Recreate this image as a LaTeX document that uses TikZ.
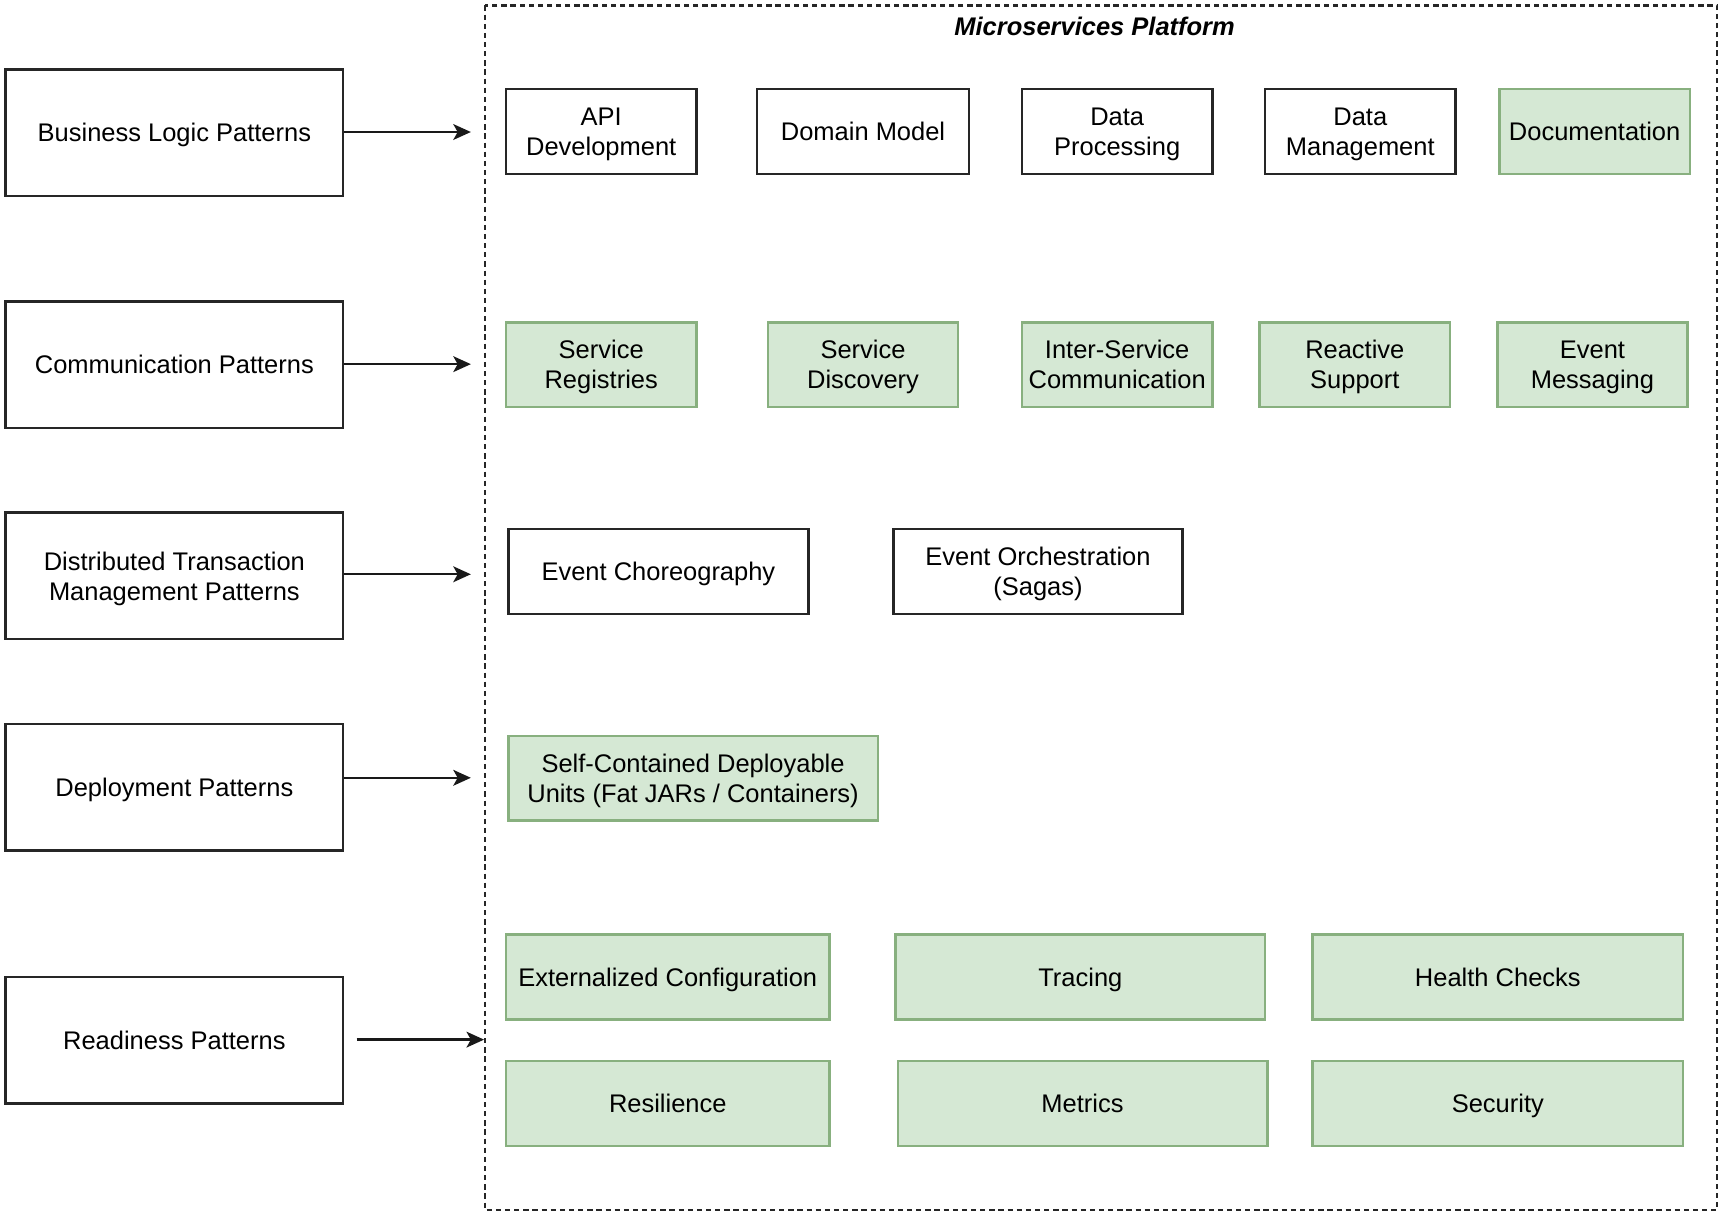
\documentclass[tikz,border=0pt]{standalone}
\usepackage{fontspec}
\setmainfont{Liberation Sans}
\usetikzlibrary{arrows.meta, positioning}
\definecolor{boxgreen}{HTML}{D5E8D4}
\definecolor{edgegreen}{HTML}{88B07F}
\newcommand{\twolines}[2]{\rule{0pt}{14pt}#1\\#2\rule[-3.5pt]{0pt}{3.5pt}}

\begin{document}
\begin{tikzpicture}[x=0.022cm, y=-0.022cm,
    every node/.style={font=\fontsize{14.5}{17}\selectfont, align=center, inner sep=2pt,
      execute at begin node={\rule{0pt}{14pt}}, execute at end node={\rule[-3.5pt]{0pt}{3.5pt}}},
    patternbox/.style={draw=black!85, line width=1.4pt, minimum width=6.754cm, minimum height=2.53cm},
    plainbox/.style={draw=black!85, line width=1.4pt, minimum height=1.694cm},
    greenbox/.style={draw=edgegreen, fill=boxgreen, line width=1.4pt, minimum height=1.694cm},
    feed/.style={-{Stealth[length=10pt, width=9pt, inset=2.5pt]}, line width=1.3pt, black!90}]

  \useasboundingbox (0,0) rectangle (1568,1106);

  % Platform frame
  \draw[dash pattern=on 3pt off 2.2pt, line width=1.3pt, black!85] (441,5) rectangle (1561,1100);
  \node[font=\fontsize{14.5}{17}\selectfont\bfseries\itshape] (title) at (995,24) {Microservices Platform};

  % Pattern groups (left)
  \node[patternbox] (blp) at (158.5,120.5) {Business Logic Patterns};
  \node[patternbox] (com) at (158.5,331.5) {Communication Patterns};
  \node[patternbox] (dtm) at (158.5,523.5) {\twolines{Distributed Transaction}{Management Patterns}};
  \node[patternbox] (dep) at (158.5,715.5) {Deployment Patterns};
  \node[patternbox] (rdy) at (158.5,945.5) {Readiness Patterns};

  % Arrow ends on the frame
  \coordinate (in1) at (428,120);
  \coordinate (in2) at (428,331);
  \coordinate (in3) at (428,522);
  \coordinate (in4) at (428,707);
  \coordinate (in5) at (440,945);

  \draw[feed] (blp.east |- in1) -- (in1);
  \draw[feed] (com.east |- in2) -- (in2);
  \draw[feed] (dtm.east |- in3) -- (in3);
  \draw[feed] (dep.east |- in4) -- (in4);
  \draw[feed] ([xshift=0.242cm]rdy.east |- in5) -- (in5);

  % Business logic
  \node[plainbox, minimum width=3.806cm] (api) at (546.5,119.5) {\twolines{API}{Development}};
  \node[plainbox, minimum width=4.246cm] (dom) at (784.5,119.5) {Domain Model};
  \node[plainbox, minimum width=3.806cm] (dpr) at (1015.5,119.5) {\twolines{Data}{Processing}};
  \node[plainbox, minimum width=3.806cm] (dmg) at (1236.5,119.5) {\twolines{Data}{Management}};
  \node[greenbox, minimum width=3.806cm] (doc) at (1449.5,119.5) {Documentation};

  % Communication
  \node[greenbox, minimum width=3.806cm] (reg) at (546.5,331.5) {\twolines{Service}{Registries}};
  \node[greenbox, minimum width=3.806cm] (dis) at (784.5,331.5) {\twolines{Service}{Discovery}};
  \node[greenbox, minimum width=3.806cm] (isc) at (1015.5,331.5) {\twolines{Inter-Service}{Communication}};
  \node[greenbox, minimum width=3.806cm] (rea) at (1231.5,331.5) {\twolines{Reactive}{Support}};
  \node[greenbox, minimum width=3.806cm] (evm) at (1447.5,331.5) {\twolines{Event}{Messaging}};

  % Distributed transactions
  \node[plainbox, minimum width=6.006cm] (cho) at (598.5,519.5) {Event Choreography};
  \node[plainbox, minimum width=5.786cm] (orc) at (943.5,519.5) {\twolines{Event Orchestration}{(Sagas)}};

  % Deployment
  \node[greenbox, minimum width=7.392cm] (unit) at (630,707.5) {\twolines{Self-Contained Deployable}{Units (Fat JARs / Containers)}};

  % Readiness
  \node[greenbox, minimum width=6.468cm] (cfg) at (607,888) {Externalized Configuration};
  \node[greenbox, minimum width=7.392cm] (trc) at (982,888) {Tracing};
  \node[greenbox, minimum width=7.414cm] (hlt) at (1361.5,888) {Health Checks};
  \node[greenbox, minimum width=6.468cm] (res) at (607,1003) {Resilience};
  \node[greenbox, minimum width=7.392cm] (met) at (984,1003) {Metrics};
  \node[greenbox, minimum width=7.414cm] (sec) at (1361.5,1003) {Security};
\end{tikzpicture}
\end{document}
